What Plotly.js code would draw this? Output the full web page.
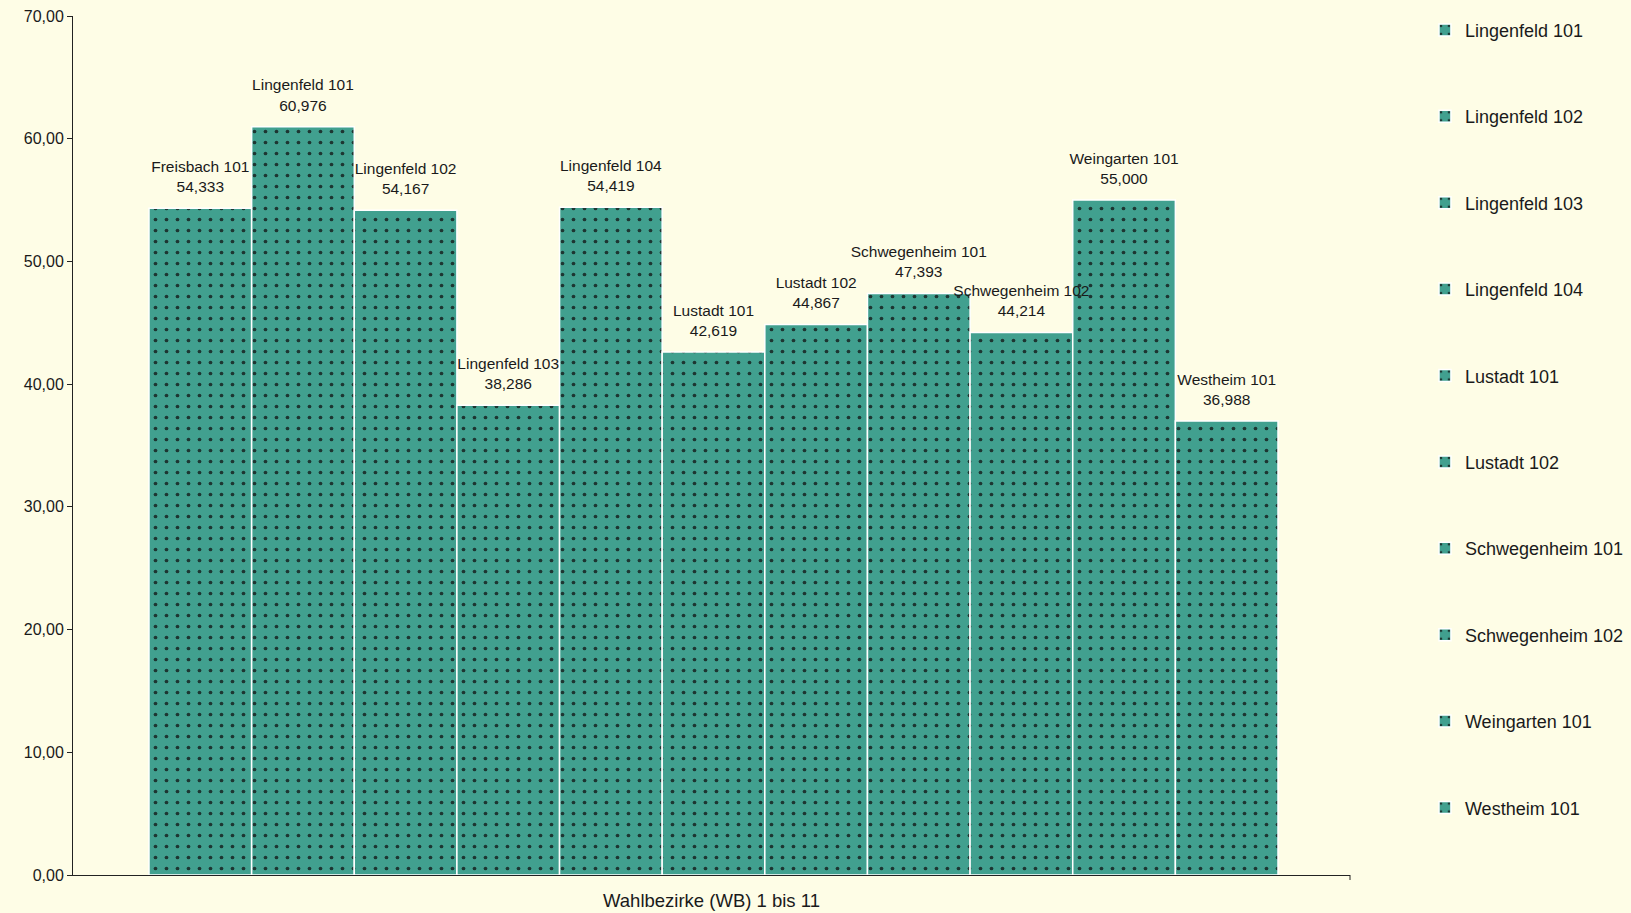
<!DOCTYPE html>
<html>
<head>
<meta charset="utf-8">
<script src="https://cdn.plot.ly/plotly-3.0.1.min.js"></script>
<style>html,body{margin:0;padding:0;background:#fefde6;}#chart{width:1631px;height:913px;}</style>
</head>
<body>
<div id="chart"></div>
<script>
// ---- data ----
const districts = ['Freisbach 101','Lingenfeld 101','Lingenfeld 102','Lingenfeld 103','Lingenfeld 104',
  'Lustadt 101','Lustadt 102','Schwegenheim 101','Schwegenheim 102','Weingarten 101','Westheim 101'];
const values = [54.333, 60.976, 54.167, 38.286, 54.419, 42.619, 44.867, 47.393, 44.214, 55.000, 36.988];
const yTickVals = [0, 10, 20, 30, 40, 50, 60, 70];
const xTitle = 'Wahlbezirke (WB) 1 bis 11';

// ---- style ----
const FONT = 'Liberation Sans, Arial, Helvetica, sans-serif';
const BG = '#fefde6';
const BAR = '#41a08f';
const DOT = '#1d3632';

const traces = districts.map((name, i) => ({
  type: 'bar',
  name: name,
  x: [name],
  y: [values[i]],
  legendgroup: 'g' + i,
  showlegend: i > 0,
  marker: {
    color: BAR,
    line: {color: '#ffffff', width: 1.5},
    pattern: {shape: '.', bgcolor: BAR, fgcolor: DOT, size: 11, solidity: 0.09}
  },
  hoverinfo: 'skip'
}));

traces.push({
  type: 'scatter',
  mode: 'markers+text',
  x: districts,
  y: values,
  texttemplate: '%{x}<br>%{y:.3f}',
  textposition: 'top center',
  textfont: {family: FONT, size: 15.5, color: '#1a1a1a'},
  marker: {size: 18, opacity: 0},
  showlegend: false,
  cliponaxis: false,
  hoverinfo: 'skip'
});

const layout = {
  width: 1631,
  height: 913,
  paper_bgcolor: BG,
  plot_bgcolor: BG,
  separators: ',.',
  barmode: 'overlay',
  bargap: 0,
  margin: {l: 73, r: 281, t: 16, b: 38, autoexpand: false},
  font: {family: FONT, color: '#1a1a1a'},
  showlegend: true,
  legend: {
    x: 1.0587, xanchor: 'left', y: 1.005, yanchor: 'top',
    maxheight: 913,
    font: {family: FONT, size: 18, color: '#1a1a1a'},
    traceorder: 'grouped',
    tracegroupgap: 60,
    bgcolor: 'rgba(0,0,0,0)',
    itemclick: false
  },
  xaxis: {
    type: 'category',
    range: [-1.2405, 11.2015],
    showticklabels: false,
    ticks: '',
    showline: true,
    linecolor: '#222',
    linewidth: 1,
    showgrid: false,
    zeroline: false,
    title: {text: xTitle, font: {family: FONT, size: 18.5, color: '#1a1a1a'}, standoff: 19}
  },
  yaxis: {
    range: [0, 70],
    tickvals: yTickVals,
    tickformat: '.2f',
    ticks: 'outside',
    ticklen: 5,
    tickcolor: '#222',
    showline: true,
    linecolor: '#222',
    linewidth: 1,
    showgrid: false,
    zeroline: false,
    tickfont: {family: FONT, size: 16, color: '#1a1a1a'}
  },
  shapes: [{
    type: 'line', xref: 'paper', yref: 'paper', ysizemode: 'pixel', yanchor: 0,
    x0: 1, x1: 1, y0: 0, y1: -5, line: {color: '#222', width: 1}
  }]
};

Plotly.newPlot('chart', traces, layout, {displayModeBar: false, staticPlot: true});
</script>
</body>
</html>
